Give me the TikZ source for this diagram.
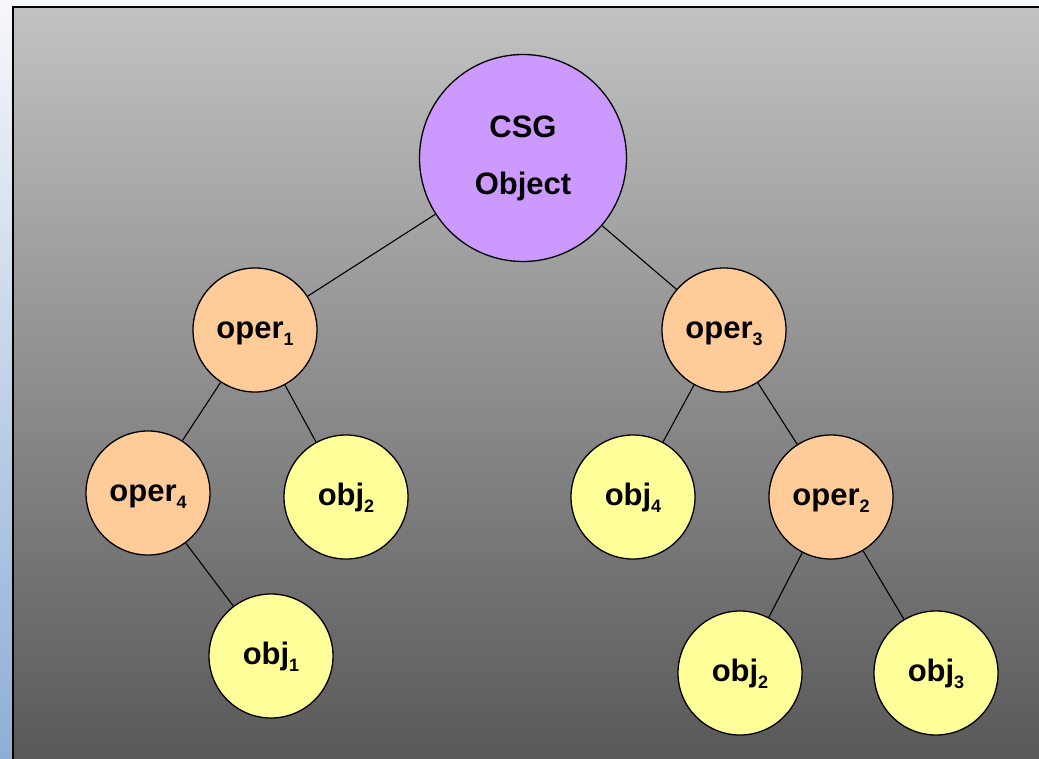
\documentclass[tikz,border=0pt]{standalone}
\usepackage{fontspec}
\setmainfont{Liberation Sans}
\usetikzlibrary{positioning}
\definecolor{csgpurple}{HTML}{CC99FF}
\definecolor{operorange}{HTML}{FFCC99}
\definecolor{objyellow}{HTML}{FFFF99}
\newcommand\lowidx[1]{\raisebox{-7pt}{\fontsize{18}{18}\selectfont#1}}
\tikzset{
	treenode/.style={circle, draw=black, line width=1.3pt, inner sep=0pt, font=\fontsize{31}{57}\selectfont\bfseries, align=center},
	csgnode/.style={treenode, fill=csgpurple, minimum size=207pt},
	opernode/.style={treenode, fill=operorange, minimum size=124pt, text height=16pt, text depth=0pt},
	objnode/.style={treenode, fill=objyellow, minimum size=124pt, text height=16pt, text depth=0pt},
	branch/.style={line width=1.1pt, color=black}
}

\begin{document}
\begin{tikzpicture}[x=1pt, y=-1pt]
			%%%%% START %%%%%
			\useasboundingbox (0, 0) rectangle (1039, 758);
			
			\shade[top color={rgb,255:red,246;green,247;blue,251}, bottom color={rgb,255:red,142;green,174;blue,214}] (0, 0) rectangle (1039, 758);
			\shade[top color={rgb,255:red,194;green,194;blue,194}, bottom color={rgb,255:red,88;green,88;blue,88}, draw=black, line width=2pt] (13, 7) rectangle (1045, 765);
			
			\node[csgnode] (csg) at (523, 158) {CSG\\Object};
			
			\node[opernode] (oper1) at (255, 330) {oper\lowidx{1}};
			\node[opernode] (oper3) at (724, 330) {oper\lowidx{3}};
			
			\node[opernode] (oper4) at (148, 493) {oper\lowidx{4}};
			\node[objnode] (obj2a) at (346, 497) {obj\lowidx{2}};
			\node[objnode] (obj4) at (633, 497) {obj\lowidx{4}};
			\node[opernode] (oper2) at (831, 497) {oper\lowidx{2}};
			
			\node[objnode] (obj1) at (271, 656) {obj\lowidx{1}};
			\node[objnode] (obj2b) at (740, 673) {obj\lowidx{2}};
			\node[objnode] (obj3) at (936, 673) {obj\lowidx{3}};
			
			\draw[branch] (csg) -- (oper1);
			\draw[branch] (csg) -- (oper3);
			\draw[branch] (oper1) -- (oper4);
			\draw[branch] (oper1) -- (obj2a);
			\draw[branch] (oper3) -- (obj4);
			\draw[branch] (oper3) -- (oper2);
			\draw[branch] (oper4) -- (obj1);
			\draw[branch] (oper2) -- (obj2b);
			\draw[branch] (oper2) -- (obj3);
			
			%%%%% END %%%%%
		\end{tikzpicture}
\end{document}
